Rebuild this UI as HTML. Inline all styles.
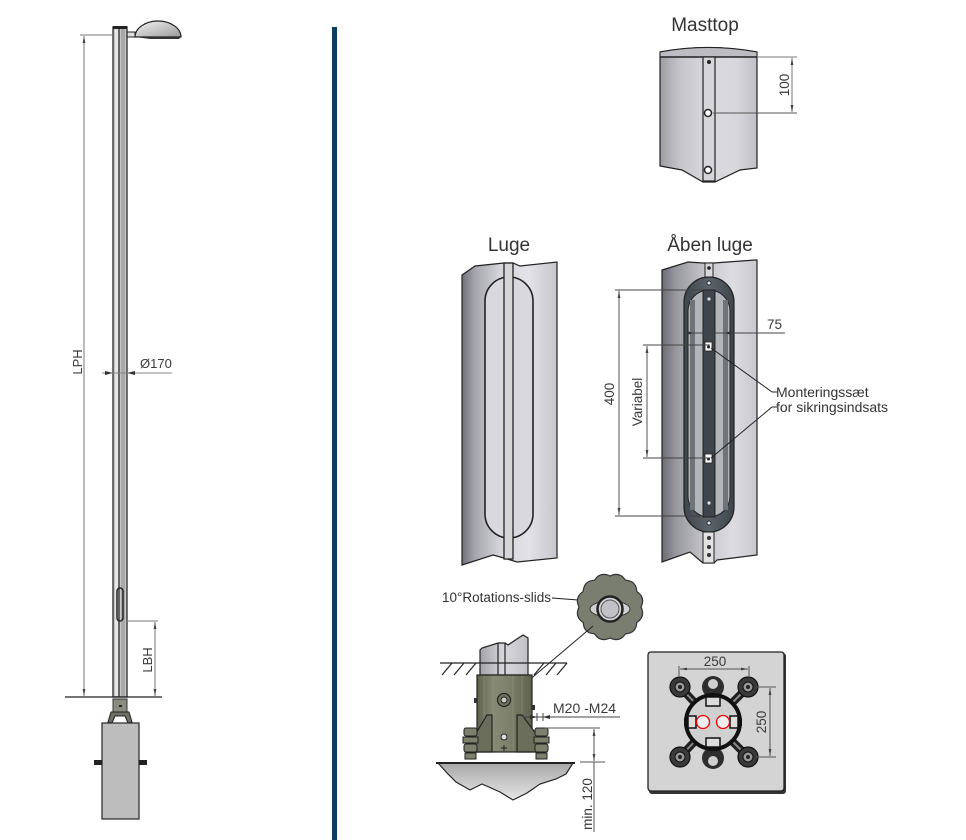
<!DOCTYPE html>
<html><head><meta charset="utf-8"><style>
html,body{margin:0;padding:0;background:#fff;}
svg{display:block;}
text{font-family:"Liberation Sans",Arial,sans-serif;}
</style></head><body>
<svg width="966" height="840" viewBox="0 0 966 840" xmlns="http://www.w3.org/2000/svg">
<defs>
<marker id="ar" viewBox="0 0 10 10" refX="10" refY="5" markerWidth="7" markerHeight="7" orient="auto-start-reverse"><path d="M0,3 L10,5 L0,7z" fill="#444"/></marker>
<linearGradient id="cyl" x1="0" x2="1" y1="0" y2="0">
<stop offset="0" stop-color="#707078"/><stop offset="0.13" stop-color="#a4a4ac"/><stop offset="0.4" stop-color="#d4d4da"/><stop offset="0.7" stop-color="#e2e2e8"/><stop offset="1" stop-color="#c6c6cc"/></linearGradient>
<linearGradient id="cyl2" x1="0" x2="1" y1="0" y2="0">
<stop offset="0" stop-color="#9c9ca2"/><stop offset="0.2" stop-color="#c4c4ca"/><stop offset="0.5" stop-color="#dadade"/><stop offset="0.8" stop-color="#d6d6dc"/><stop offset="1" stop-color="#c0c0c6"/></linearGradient>
<linearGradient id="cyl3" x1="0" x2="1" y1="0" y2="0">
<stop offset="0" stop-color="#6c6c74"/><stop offset="0.15" stop-color="#98989f"/><stop offset="0.45" stop-color="#c6c6cc"/><stop offset="0.75" stop-color="#dcdce2"/><stop offset="1" stop-color="#c8c8ce"/></linearGradient>
<linearGradient id="dome" x1="0" x2="1" y1="0" y2="1">
<stop offset="0" stop-color="#f4f4f4"/><stop offset="1" stop-color="#9a9a9a"/></linearGradient>
<linearGradient id="olive" x1="0" x2="1" y1="0" y2="0">
<stop offset="0" stop-color="#5f634f"/><stop offset="0.3" stop-color="#878b74"/><stop offset="0.6" stop-color="#7c806a"/><stop offset="1" stop-color="#5e624e"/></linearGradient>
<linearGradient id="conc" x1="0" x2="0" y1="0" y2="1">
<stop offset="0" stop-color="#a8a8a8"/><stop offset="1" stop-color="#e6e6e6"/></linearGradient>
<linearGradient id="stub" x1="0" x2="1" y1="0" y2="0">
<stop offset="0" stop-color="#a2a2a8"/><stop offset="0.5" stop-color="#d8d8dc"/><stop offset="1" stop-color="#c0c0c6"/></linearGradient>
<linearGradient id="frame" x1="0" x2="1" y1="0" y2="0">
<stop offset="0" stop-color="#3e454c"/><stop offset="0.5" stop-color="#5c646b"/><stop offset="1" stop-color="#3e454c"/></linearGradient>
</defs>

<!-- divider -->
<rect x="332" y="27" width="5" height="813" fill="#0e3d5e"/>

<!-- ============ LEFT POLE ============ -->
<!-- lamp -->
<path d="M135,37 A23,16 0 0 1 181,37 Z" fill="url(#dome)" stroke="#222" stroke-width="1.2"/>
<path d="M135,37 L181,37 L179,39 L150,39 Z" fill="#333"/>
<rect x="127" y="32" width="8" height="5" fill="#ddd" stroke="#222" stroke-width="1"/>
<!-- pole -->
<rect x="113" y="27" width="14" height="670" fill="#c6c6c6" stroke="#2a2a2a" stroke-width="1.3"/>
<rect x="115" y="28" width="3" height="668" fill="#e6e6e6"/>
<line x1="119" y1="28" x2="119" y2="697" stroke="#444" stroke-width="1.5"/>
<rect x="121" y="28" width="4" height="668" fill="#a8a8a8"/>
<rect x="113" y="26" width="14" height="3" fill="#222"/>
<rect x="117" y="588" width="6" height="33" rx="3" fill="none" stroke="#222" stroke-width="1.5"/>
<!-- LPH -->
<line x1="80" y1="35" x2="113" y2="35" stroke="#777" stroke-width="1"/>
<line x1="84" y1="36" x2="84" y2="696" stroke="#777" stroke-width="1" marker-start="url(#ar)" marker-end="url(#ar)"/>
<text transform="translate(82,362) rotate(-90)" text-anchor="middle" font-size="13" fill="#3a3a3a">LPH</text>
<!-- Ø170 -->
<line x1="102" y1="373" x2="172" y2="373" stroke="#888" stroke-width="1"/>
<path d="M105,371 L113,373 L105,375Z M135,371 L127,373 L135,375Z" fill="#333"/>
<text x="140" y="368" font-size="13" fill="#3a3a3a">Ø170</text>
<!-- LBH -->
<line x1="126" y1="621" x2="158" y2="621" stroke="#777" stroke-width="1"/>
<line x1="155" y1="622" x2="155" y2="696" stroke="#777" stroke-width="1" marker-start="url(#ar)" marker-end="url(#ar)"/>
<text transform="translate(152,660) rotate(-90)" text-anchor="middle" font-size="13" fill="#3a3a3a">LBH</text>
<!-- ground line -->
<line x1="65" y1="697" x2="162" y2="697" stroke="#222" stroke-width="1.3"/>
<!-- bracket -->
<rect x="113" y="699" width="14" height="13" fill="#8a8c80" stroke="#333" stroke-width="1"/>
<rect x="119" y="705" width="3" height="2" fill="#222"/>
<path d="M111,712 L129,712 L132,722 L128,723 L125,716 L115,716 L112,723 L108,722 Z" fill="#6e7064" stroke="#222" stroke-width="1"/>
<!-- foundation -->
<rect x="102" y="723" width="37" height="96" fill="#bdbdbd" stroke="#333" stroke-width="1.3"/>
<rect x="94" y="760" width="8" height="5" fill="#222"/>
<rect x="139" y="760" width="8" height="5" fill="#222"/>

<!-- ============ MASTTOP ============ -->
<text x="705" y="31" text-anchor="middle" font-size="19" fill="#333">Masttop</text>
<path d="M660,52 Q708,43 757,52 L757,168 L740,170 L715,182 L703,182 L682,170 L660,166 Z" fill="url(#cyl2)" stroke="#222" stroke-width="1.2"/>
<path d="M660,52 Q708,43 757,52 L757,57 L660,57 Z" fill="#bcbcc2" stroke="#222" stroke-width="1"/>
<line x1="660" y1="57" x2="757" y2="57" stroke="#222" stroke-width="1.5"/>
<rect x="703" y="57" width="12" height="124" fill="#d6d6da" stroke="#222" stroke-width="1.2"/>
<circle cx="709" cy="62" r="2" fill="#222"/>
<circle cx="708" cy="113" r="3.5" fill="#fff" stroke="#222" stroke-width="1.5"/>
<circle cx="708" cy="170" r="3.5" fill="#fff" stroke="#222" stroke-width="1.5"/>
<line x1="757" y1="57" x2="797" y2="57" stroke="#777" stroke-width="1"/>
<line x1="713" y1="113" x2="797" y2="113" stroke="#555" stroke-width="1"/>
<line x1="792" y1="58" x2="792" y2="112" stroke="#777" stroke-width="1" marker-start="url(#ar)" marker-end="url(#ar)"/>
<text transform="translate(789,85) rotate(-90)" text-anchor="middle" font-size="13.5" fill="#3a3a3a">100</text>

<!-- ============ LUGE ============ -->
<text x="509" y="251" text-anchor="middle" font-size="19" fill="#333">Luge</text>
<path d="M462,275 L475,266 L504,263 L513,263 L520,266 L557,262 L557,558 L517,562 L504,558 L493,555 L462,565 Z" fill="url(#cyl)" stroke="#222" stroke-width="1.2"/>
<rect x="485" y="277" width="48" height="261" rx="24" fill="#d8d8de" stroke="#222" stroke-width="1.6"/>
<rect x="504" y="263" width="9" height="296" fill="#d6d6d8" stroke="#222" stroke-width="1.3"/>

<!-- ============ ÅBEN LUGE ============ -->
<text x="710" y="251" text-anchor="middle" font-size="19" fill="#333">Åben luge</text>
<path d="M662,270 L688,262 L703,263 L714,263 L755,260 L757,260 L757,555 L717,560 L714,563 L703,563 L690,552 L662,562 Z" fill="url(#cyl3)" stroke="#222" stroke-width="1.2"/>
<rect x="684" y="277" width="50" height="255" rx="25" fill="url(#frame)" stroke="#222" stroke-width="1.2"/>
<rect x="688" y="290" width="42" height="227" rx="21" fill="#b2b5b9" stroke="#222" stroke-width="1"/>
<rect x="690" y="300" width="5" height="210" fill="#6e747a"/>
<rect x="723" y="300" width="5" height="210" fill="#6e747a"/>
<rect x="703" y="290" width="12" height="227" fill="#3e454c" stroke="#222" stroke-width="1"/>
<rect x="705" y="263" width="8" height="14" fill="#d8d8da" stroke="#222" stroke-width="1"/>
<rect x="703" y="532" width="11" height="31" fill="#e2e2e4" stroke="#222" stroke-width="1"/>
<circle cx="709" cy="268" r="1.8" fill="#222"/>
<circle cx="709" cy="283" r="2" fill="#ddd" stroke="#111" stroke-width="0.8"/>
<circle cx="709" cy="299" r="1.6" fill="#ddd"/>
<circle cx="709" cy="503" r="1.6" fill="#ddd"/>
<circle cx="709" cy="523" r="2" fill="#ddd" stroke="#111" stroke-width="0.8"/>
<circle cx="709" cy="538" r="2" fill="#333"/>
<circle cx="709" cy="547" r="2" fill="#333"/>
<circle cx="709" cy="555" r="2" fill="#333"/>
<rect x="705" y="342" width="7" height="9" fill="#fff" stroke="#222" stroke-width="0.8"/>
<circle cx="708.5" cy="347" r="1.5" fill="#222"/>
<rect x="705" y="454" width="7" height="9" fill="#fff" stroke="#222" stroke-width="0.8"/>
<circle cx="708.5" cy="459" r="1.5" fill="#222"/>
<!-- dims -->
<line x1="615" y1="290" x2="703" y2="290" stroke="#444" stroke-width="1"/>
<line x1="615" y1="516" x2="703" y2="516" stroke="#444" stroke-width="1"/>
<line x1="619" y1="291" x2="619" y2="515" stroke="#555" stroke-width="1" marker-start="url(#ar)" marker-end="url(#ar)"/>
<text transform="translate(614,394) rotate(-90)" text-anchor="middle" font-size="13.5" fill="#3a3a3a">400</text>
<line x1="643" y1="345" x2="710" y2="345" stroke="#444" stroke-width="1"/>
<line x1="643" y1="458" x2="710" y2="458" stroke="#444" stroke-width="1"/>
<line x1="647" y1="346" x2="647" y2="457" stroke="#555" stroke-width="1" marker-start="url(#ar)" marker-end="url(#ar)"/>
<text transform="translate(642,402) rotate(-90)" text-anchor="middle" font-size="13.5" fill="#3a3a3a">Variabel</text>
<line x1="688" y1="333" x2="785" y2="333" stroke="#444" stroke-width="1"/>
<path d="M687,331 L693,333 L687,335Z M731,331 L725,333 L731,335Z" fill="#333"/>
<text x="767" y="329" font-size="13.5" fill="#3a3a3a">75</text>
<line x1="711" y1="348" x2="772" y2="392" stroke="#222" stroke-width="1"/>
<line x1="711" y1="458" x2="772" y2="407" stroke="#222" stroke-width="1"/>
<line x1="772" y1="392" x2="777" y2="392" stroke="#222" stroke-width="1"/>
<line x1="772" y1="407" x2="777" y2="407" stroke="#222" stroke-width="1"/>
<text x="776" y="397" font-size="14" fill="#333">Monteringssæt</text>
<text x="776" y="412" font-size="14" fill="#333">for sikringsindsats</text>

<!-- ============ FOUNDATION DETAIL ============ -->
<text x="442" y="602" font-size="13.5" fill="#333">10°Rotations-slids</text>
<path d="M552,598 L578,600 L592,608" fill="none" stroke="#222" stroke-width="1"/>
<!-- blob -->
<path d="M641,607 Q645.7,616.6 636.8,622.5 Q636.2,633.2 625.5,633.8 Q619.6,642.7 610,638 Q600.4,642.7 594.5,633.8 Q583.8,633.2 583.2,622.5 Q574.3,616.6 579,607 Q574.3,597.4 583.2,591.5 Q583.8,580.8 594.5,580.2 Q600.4,571.3 610,576 Q619.6,571.3 625.5,580.2 Q636.2,580.8 636.8,591.5 Q645.7,597.4 641,607 Z" fill="#7a7e70" stroke="#333" stroke-width="1.2" stroke-linejoin="round"/>
<ellipse cx="610" cy="609" rx="20" ry="8" fill="#cfd0d2" stroke="#333" stroke-width="1"/>
<circle cx="610" cy="609" r="12.5" fill="#d6d6d8" stroke="#222" stroke-width="2.5"/>
<circle cx="610" cy="609" r="9" fill="#c2c2c6" stroke="#555" stroke-width="1"/>
<line x1="593" y1="626" x2="507" y2="699" stroke="#222" stroke-width="1"/>
<!-- ground -->
<path d="M480,675 L480,650 L482,648 L498,643 L505,643 L508,645 L523,635 L528,638 L528,675 Z" fill="url(#stub)" stroke="#222" stroke-width="1.2"/>
<line x1="498" y1="643" x2="498" y2="675" stroke="#222" stroke-width="1.2"/>
<line x1="505" y1="643" x2="505" y2="675" stroke="#222" stroke-width="1.2"/>
<line x1="440" y1="663" x2="567" y2="663" stroke="#222" stroke-width="1.3"/>
<g stroke="#222" stroke-width="1.2">
<line x1="452" y1="663" x2="442" y2="675"/><line x1="464" y1="663" x2="454" y2="675"/><line x1="476" y1="663" x2="466" y2="675"/>
<line x1="544" y1="663" x2="534" y2="675"/><line x1="556" y1="663" x2="546" y2="675"/><line x1="567" y1="663" x2="557" y2="675"/>
</g>
<!-- sleeve -->
<rect x="477" y="675" width="55" height="77" fill="url(#olive)" stroke="#222" stroke-width="1.2"/>
<g stroke="#9a9e86" stroke-width="0.6" opacity="0.7">
<line x1="484" y1="676" x2="484" y2="751"/><line x1="493" y1="676" x2="493" y2="751"/><line x1="513" y1="676" x2="513" y2="751"/><line x1="522" y1="676" x2="522" y2="751"/>
</g>
<rect x="474" y="698" width="3" height="5" fill="#333"/>
<rect x="532" y="705" width="3" height="5" fill="#333"/>
<!-- gussets -->
<path d="M487,715 L492,715 L492,752 L470,752 L475,735 Z" fill="#6a6e5a" stroke="#222" stroke-width="1.2"/>
<path d="M517,715 L522,715 L537,735 L541,752 L517,752 Z" fill="#6a6e5a" stroke="#222" stroke-width="1.2"/>
<circle cx="504" cy="700" r="6.5" fill="#70745f" stroke="#222" stroke-width="1.2"/>
<circle cx="504" cy="700" r="3" fill="#ccc" stroke="#222" stroke-width="1"/>
<circle cx="504" cy="737" r="3" fill="#ddd" stroke="#222" stroke-width="1"/>
<path d="M504,745 L504,751 M501,748 L507,748" stroke="#222" stroke-width="1"/>
<!-- bolts -->
<g fill="#7c806c" stroke="#222" stroke-width="1">
<rect x="464" y="728" width="13" height="8" rx="2"/><rect x="463" y="737" width="15" height="6"/><rect x="464" y="744" width="13" height="8" rx="2"/><rect x="465" y="753" width="11" height="6"/>
<rect x="535" y="728" width="13" height="8" rx="2"/><rect x="534" y="737" width="15" height="6"/><rect x="535" y="744" width="13" height="8" rx="2"/><rect x="536" y="753" width="11" height="6"/>
</g>
<!-- concrete -->
<path d="M438,763 L573,763 L566,774 L556,779 L540,784 L527,793 L513,800 L500,792 L482,784 L470,790 L456,782 L447,773 Z" fill="url(#conc)" stroke="#222" stroke-width="1.2"/>
<line x1="436" y1="763" x2="575" y2="763" stroke="#222" stroke-width="2"/>
<!-- M20-M24 -->
<text x="553" y="713" font-size="14" fill="#3a3a3a">M20 -M24</text>
<line x1="523" y1="717" x2="620" y2="717" stroke="#444" stroke-width="1"/>
<line x1="537" y1="713" x2="537" y2="721" stroke="#444" stroke-width="1"/>
<line x1="543" y1="713" x2="543" y2="721" stroke="#444" stroke-width="1"/>
<path d="M530,715 L537,717 L530,719Z M550,715 L543,717 L550,719Z" fill="#333"/>
<!-- min 120 -->
<line x1="545" y1="728" x2="600" y2="728" stroke="#555" stroke-width="1"/>
<line x1="580" y1="762" x2="605" y2="762" stroke="#555" stroke-width="1"/>
<line x1="594" y1="729" x2="594" y2="761" stroke="#555" stroke-width="1" marker-start="url(#ar)" marker-end="url(#ar)"/>
<line x1="594" y1="762" x2="594" y2="832" stroke="#555" stroke-width="1"/>
<text transform="translate(592,804) rotate(-90)" text-anchor="middle" font-size="13.5" fill="#3a3a3a">min. 120</text>

<!-- ============ BASEPLATE TOP VIEW ============ -->
<rect x="649" y="653" width="137" height="141" rx="3" fill="#333"/>
<rect x="648" y="652" width="136" height="139" rx="3" fill="#d4d4d4" stroke="#222" stroke-width="1.3"/>
<g stroke="#1e1e1e" stroke-width="8" stroke-linecap="round">
<line x1="713" y1="722" x2="680" y2="687"/><line x1="713" y1="722" x2="748" y2="687"/>
<line x1="713" y1="722" x2="680" y2="757"/><line x1="713" y1="722" x2="748" y2="757"/>
</g>
<g stroke="#8a8a8a" stroke-width="2">
<line x1="713" y1="722" x2="680" y2="687"/><line x1="713" y1="722" x2="748" y2="687"/>
<line x1="713" y1="722" x2="680" y2="757"/><line x1="713" y1="722" x2="748" y2="757"/>
</g>
<g>
<circle cx="680" cy="687" r="10" fill="#3a3a3a" stroke="#111" stroke-width="1.2"/><circle cx="680" cy="687" r="5" fill="#999" stroke="#111"/><circle cx="680" cy="687" r="2" fill="#222"/>
<circle cx="748" cy="687" r="10" fill="#3a3a3a" stroke="#111" stroke-width="1.2"/><circle cx="748" cy="687" r="5" fill="#999" stroke="#111"/><circle cx="748" cy="687" r="2" fill="#222"/>
<circle cx="680" cy="757" r="10" fill="#3a3a3a" stroke="#111" stroke-width="1.2"/><circle cx="680" cy="757" r="5" fill="#999" stroke="#111"/><circle cx="680" cy="757" r="2" fill="#222"/>
<circle cx="748" cy="757" r="10" fill="#3a3a3a" stroke="#111" stroke-width="1.2"/><circle cx="748" cy="757" r="5" fill="#999" stroke="#111"/><circle cx="748" cy="757" r="2" fill="#222"/>
</g>
<circle cx="713" cy="687" r="11" fill="#2e2e2e"/><circle cx="713" cy="684" r="5" fill="#cfcfcf"/>
<circle cx="713" cy="758" r="11" fill="#2e2e2e"/><circle cx="713" cy="761" r="5" fill="#cfcfcf"/>
<circle cx="713" cy="722" r="27" fill="#d0d0d0" stroke="#111" stroke-width="4"/>
<rect x="706" y="697" width="14" height="9" fill="#ddd" stroke="#111" stroke-width="1.5"/>
<rect x="706" y="738" width="14" height="9" fill="#ddd" stroke="#111" stroke-width="1.5"/>
<rect x="688" y="716" width="8" height="12" fill="#ddd" stroke="#111" stroke-width="1.5"/>
<rect x="730" y="716" width="8" height="12" fill="#ddd" stroke="#111" stroke-width="1.5"/>
<rect x="684" y="718" width="3" height="8" fill="#111"/><rect x="739" y="718" width="3" height="8" fill="#111"/>
<circle cx="703" cy="722" r="6.5" fill="#eee" stroke="#e00" stroke-width="1.3"/>
<circle cx="723" cy="722" r="6.5" fill="#eee" stroke="#e00" stroke-width="1.3"/>
<line x1="679" y1="666" x2="679" y2="676" stroke="#555" stroke-width="1"/>
<line x1="749" y1="666" x2="749" y2="676" stroke="#555" stroke-width="1"/>
<line x1="680" y1="669" x2="748" y2="669" stroke="#555" stroke-width="1" marker-start="url(#ar)" marker-end="url(#ar)"/>
<text x="715" y="666" text-anchor="middle" font-size="13.5" fill="#3a3a3a">250</text>
<line x1="756" y1="687" x2="776" y2="687" stroke="#555" stroke-width="1"/>
<line x1="756" y1="757" x2="776" y2="757" stroke="#555" stroke-width="1"/>
<line x1="770" y1="688" x2="770" y2="756" stroke="#555" stroke-width="1" marker-start="url(#ar)" marker-end="url(#ar)"/>
<text transform="translate(766,722) rotate(-90)" text-anchor="middle" font-size="13.5" fill="#3a3a3a">250</text>
</svg>
</body></html>
